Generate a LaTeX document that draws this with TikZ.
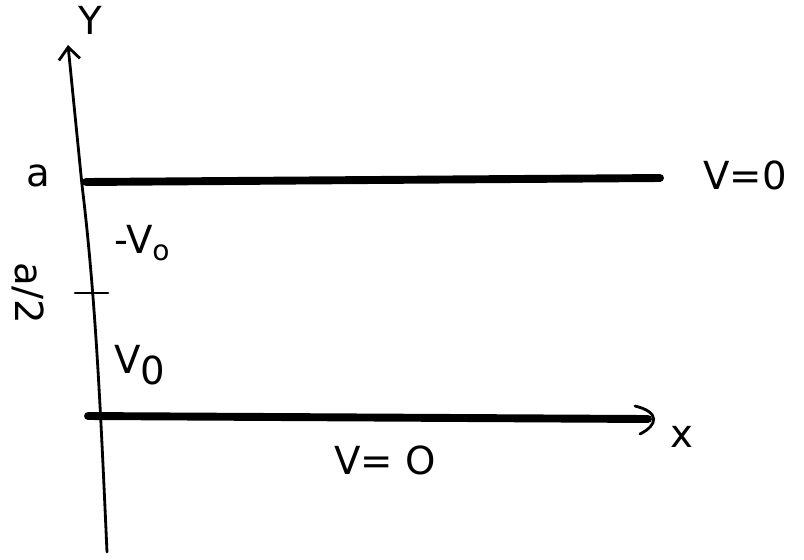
\documentclass[tikz,border=0pt]{standalone}
\usepackage{fontspec}
\setmainfont{DejaVu Sans}
\usetikzlibrary{arrows.meta}
\begin{document}
\begin{tikzpicture}[x=0.02cm,y=-0.02cm,
  lbl/.style={font=\fontsize{22}{26}\selectfont, inner sep=0pt},
  plate/.style={line width=4.5pt, line cap=round},
  axis/.style={line width=1.6pt, line cap=round}]
\useasboundingbox (0,0) rectangle (804,559);
% coordinates
\coordinate (ytop) at (68,45);
\coordinate (ybot) at (107,552);
\coordinate (tl) at (86,182);
\coordinate (tr) at (660,178);
\coordinate (bl) at (88,416);
\coordinate (br) at (648,419);
\coordinate (tickl) at (75,293);
\coordinate (tickr) at (108,293);
% y axis
\draw[axis,-{Straight Barb[length=7pt,width=12pt]}] (ybot) .. controls (101,420) and (96,300) .. (82,185) -- (ytop);
% plates
\draw[plate] (tl) -- (tr);
\draw[plate] (bl) -- (br);
\draw[axis] (610,418) -- (br);
\draw[axis] (635,406) .. controls (660,412) and (658,425) .. (640,434);
% tick
\draw[axis] (tickl) -- (tickr);
% labels
\node[lbl] (Y) at (90,20) {Y};
\node[lbl] (a) at (38,176) {a};
\node[lbl] (Vr) at (745,175) {V=0};
\node[lbl] (mV0) at (142,243) {-V\raisebox{-4pt}{\fontsize{16}{18}\selectfont o}};
\node[lbl, rotate=-90] (ahalf) at (28,293) {a/2};
\node[lbl] (V0) at (140,365) {V\raisebox{-6pt}{0}};
\node[lbl] (x) at (682,437) {x};
\node[lbl] (Vb) at (385,460) {V= O};
\end{tikzpicture}
\end{document}
